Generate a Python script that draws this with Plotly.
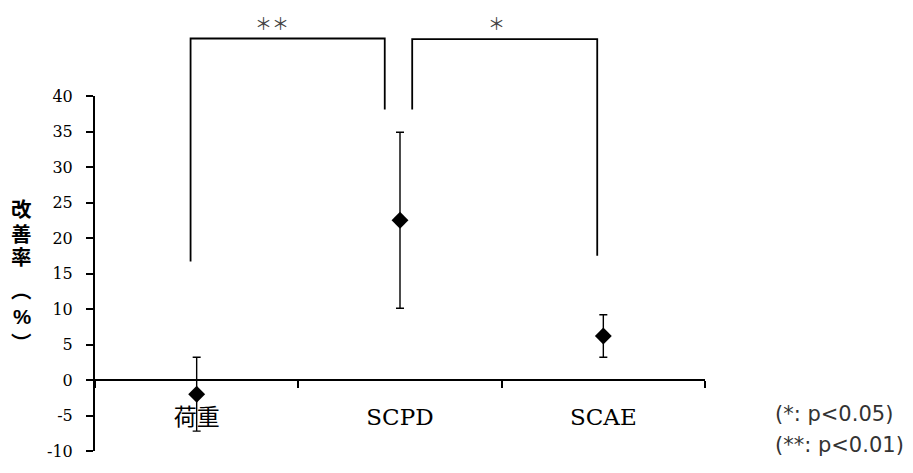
import plotly.graph_objects as go

categories = ["荷重", "SCPD", "SCAE"]
means = [-2.0, 22.5, 6.2]
errors = [5.2, 12.4, 3.0]
y_ticks = [-10, -5, 0, 5, 10, 15, 20, 25, 30, 35, 40]
y_tick_labels = ["-10", "-5", "0", "5", "10", "15", "20", "25", "30", "35", "40"]

# vertical (tategaki) axis title: characters and the data-y of each one's centre
y_title_chars = ["改", "善", "率", "︵", "%", "︶"]
y_title_pos = [24.0, 20.55, 17.25, 12.6, 8.9, 5.2]

# significance brackets (x in category units, y in data units)
brackets = [
    {"x0": -0.03, "x1": 0.925, "top": 48.1, "leg0": 16.7, "leg1": 38.1, "label": "＊＊", "lx": 0.37},
    {"x0": 1.06, "x1": 1.97, "top": 48.0, "leg0": 38.1, "leg1": 17.5, "label": "＊", "lx": 1.475},
]
notes = ["(*: p<0.05)", "(**: p<0.01)"]
notes_y = [-4.8, -9.2]

Y_MIN, Y_MAX = -10, 40
SERIF = '"DejaVu Serif", "Liberation Serif", "Noto Sans CJK JP", serif'
TITLE_FONT = '"Liberation Sans", "Noto Sans CJK JP", sans-serif'


def to_paper(v):
    return (v - Y_MIN) / (Y_MAX - Y_MIN)


fig = go.Figure()
fig.add_trace(go.Scatter(
    x=categories, y=means, mode="markers",
    marker=dict(symbol="diamond", size=13, color="black"),
    error_y=dict(type="data", array=errors, visible=True, color="black",
                 thickness=1.4, width=4),
    showlegend=False, cliponaxis=False,
))

shapes = []
annotations = []
for b in brackets:
    path = (f"M {b['x0']},{to_paper(b['leg0'])} L {b['x0']},{to_paper(b['top'])} "
            f"L {b['x1']},{to_paper(b['top'])} L {b['x1']},{to_paper(b['leg1'])}")
    shapes.append(dict(type="path", xref="x", yref="paper", path=path,
                       line=dict(color="black", width=1.8)))
    annotations.append(dict(x=b["lx"], y=to_paper(b["top"]) + 0.087, xref="x", yref="paper",
                            text=b["label"], showarrow=False,
                            font=dict(family="Noto Sans CJK JP", size=17, color="#444444")))

for c, yv in zip(y_title_chars, y_title_pos):
    annotations.append(dict(x=-0.12, y=to_paper(yv), xref="paper", yref="paper",
                            text=f"<b>{c}</b>", showarrow=False,
                            xanchor="center", yanchor="middle",
                            font=dict(family=TITLE_FONT, size=20.5, color="black")))

for t, yv in zip(notes, notes_y):
    annotations.append(dict(x=1.111, y=to_paper(yv), xref="paper", yref="paper",
                            xanchor="left", yanchor="middle", text=t, showarrow=False,
                            font=dict(family="DejaVu Sans", size=21, color="#333333")))

fig.update_layout(
    width=913, height=473,
    margin=dict(l=95, r=208, t=96, b=12),
    paper_bgcolor="white", plot_bgcolor="white",
    shapes=shapes, annotations=annotations,
    xaxis=dict(
        type="category", range=[-0.5, 2.5], anchor="free", position=to_paper(0),
        showline=True, linecolor="black", linewidth=2,
        ticks="outside", tickson="boundaries", ticklen=7, tickwidth=1.5, tickcolor="black",
        ticklabelstandoff=16,
        showgrid=False, zeroline=False,
        tickfont=dict(family=SERIF, size=23, color="black"),
    ),
    yaxis=dict(
        range=[Y_MIN, Y_MAX], tickvals=y_ticks, ticktext=y_tick_labels,
        showline=True, linecolor="black", linewidth=2,
        ticks="outside", ticklen=7, tickwidth=1.5, tickcolor="black",
        ticklabelstandoff=10,
        showgrid=False, zeroline=False,
        tickfont=dict(family=SERIF, size=16, color="black"),
    ),
)

fig.write_html("out.html")
